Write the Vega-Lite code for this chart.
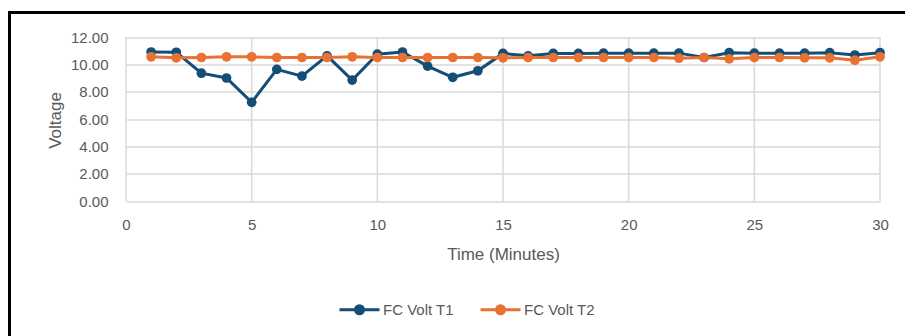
{
  "$schema": "https://vega.github.io/schema/vega-lite/v6.json",
  "width": 900,
  "height": 330,
  "autosize": "none",
  "padding": {"left": 9.5, "top": 12.5, "right": 0, "bottom": 0},
  "background": "white",
  "config": {
    "view": {"stroke": "black", "strokeWidth": 3},
    "font": "Liberation Sans",
    "axis": {
      "gridColor": "#d9d9d9",
      "gridWidth": 1.5,
      "domain": false,
      "ticks": false,
      "tickSize": 0,
      "labelColor": "#595959",
      "labelFontSize": 15,
      "titleColor": "#595959",
      "titleFontSize": 17,
      "titleFontWeight": "normal"
    }
  },
  "datasets": {
    "readings": [
      {"minute": 1, "series": "FC Volt T1", "voltage": 10.9},
      {"minute": 2, "series": "FC Volt T1", "voltage": 10.88},
      {"minute": 3, "series": "FC Volt T1", "voltage": 9.35},
      {"minute": 4, "series": "FC Volt T1", "voltage": 9.0},
      {"minute": 5, "series": "FC Volt T1", "voltage": 7.22},
      {"minute": 6, "series": "FC Volt T1", "voltage": 9.63},
      {"minute": 7, "series": "FC Volt T1", "voltage": 9.14},
      {"minute": 8, "series": "FC Volt T1", "voltage": 10.62},
      {"minute": 9, "series": "FC Volt T1", "voltage": 8.85},
      {"minute": 10, "series": "FC Volt T1", "voltage": 10.74},
      {"minute": 11, "series": "FC Volt T1", "voltage": 10.9},
      {"minute": 12, "series": "FC Volt T1", "voltage": 9.87},
      {"minute": 13, "series": "FC Volt T1", "voltage": 9.05},
      {"minute": 14, "series": "FC Volt T1", "voltage": 9.53},
      {"minute": 15, "series": "FC Volt T1", "voltage": 10.8},
      {"minute": 16, "series": "FC Volt T1", "voltage": 10.62},
      {"minute": 17, "series": "FC Volt T1", "voltage": 10.8},
      {"minute": 18, "series": "FC Volt T1", "voltage": 10.8},
      {"minute": 19, "series": "FC Volt T1", "voltage": 10.82},
      {"minute": 20, "series": "FC Volt T1", "voltage": 10.82},
      {"minute": 21, "series": "FC Volt T1", "voltage": 10.82},
      {"minute": 22, "series": "FC Volt T1", "voltage": 10.82},
      {"minute": 23, "series": "FC Volt T1", "voltage": 10.5},
      {"minute": 24, "series": "FC Volt T1", "voltage": 10.85},
      {"minute": 25, "series": "FC Volt T1", "voltage": 10.82},
      {"minute": 26, "series": "FC Volt T1", "voltage": 10.82},
      {"minute": 27, "series": "FC Volt T1", "voltage": 10.82},
      {"minute": 28, "series": "FC Volt T1", "voltage": 10.85},
      {"minute": 29, "series": "FC Volt T1", "voltage": 10.68},
      {"minute": 30, "series": "FC Volt T1", "voltage": 10.85},
      {"minute": 1, "series": "FC Volt T2", "voltage": 10.55},
      {"minute": 2, "series": "FC Volt T2", "voltage": 10.48},
      {"minute": 3, "series": "FC Volt T2", "voltage": 10.5},
      {"minute": 4, "series": "FC Volt T2", "voltage": 10.55},
      {"minute": 5, "series": "FC Volt T2", "voltage": 10.55},
      {"minute": 6, "series": "FC Volt T2", "voltage": 10.5},
      {"minute": 7, "series": "FC Volt T2", "voltage": 10.5},
      {"minute": 8, "series": "FC Volt T2", "voltage": 10.5},
      {"minute": 9, "series": "FC Volt T2", "voltage": 10.55},
      {"minute": 10, "series": "FC Volt T2", "voltage": 10.5},
      {"minute": 11, "series": "FC Volt T2", "voltage": 10.5},
      {"minute": 12, "series": "FC Volt T2", "voltage": 10.5},
      {"minute": 13, "series": "FC Volt T2", "voltage": 10.5},
      {"minute": 14, "series": "FC Volt T2", "voltage": 10.5},
      {"minute": 15, "series": "FC Volt T2", "voltage": 10.48},
      {"minute": 16, "series": "FC Volt T2", "voltage": 10.5},
      {"minute": 17, "series": "FC Volt T2", "voltage": 10.5},
      {"minute": 18, "series": "FC Volt T2", "voltage": 10.5},
      {"minute": 19, "series": "FC Volt T2", "voltage": 10.5},
      {"minute": 20, "series": "FC Volt T2", "voltage": 10.5},
      {"minute": 21, "series": "FC Volt T2", "voltage": 10.5},
      {"minute": 22, "series": "FC Volt T2", "voltage": 10.45},
      {"minute": 23, "series": "FC Volt T2", "voltage": 10.5},
      {"minute": 24, "series": "FC Volt T2", "voltage": 10.4},
      {"minute": 25, "series": "FC Volt T2", "voltage": 10.5},
      {"minute": 26, "series": "FC Volt T2", "voltage": 10.5},
      {"minute": 27, "series": "FC Volt T2", "voltage": 10.48},
      {"minute": 28, "series": "FC Volt T2", "voltage": 10.48},
      {"minute": 29, "series": "FC Volt T2", "voltage": 10.3},
      {"minute": 30, "series": "FC Volt T2", "voltage": 10.55}
    ],
    "minuteGrid": [
      {"minute": 0}, {"minute": 5}, {"minute": 10}, {"minute": 15},
      {"minute": 20}, {"minute": 25}, {"minute": 30}
    ]
  },
  "layer": [
    {
      "data": {"name": "minuteGrid"},
      "mark": {"type": "rule", "color": "#d9d9d9", "strokeWidth": 1.5},
      "encoding": {
        "x": {"field": "minute", "type": "quantitative"},
        "y": {"datum": 0, "type": "quantitative"},
        "y2": {"datum": 12}
      }
    },
    {
      "data": {"name": "readings"},
      "encoding": {
        "x": {"field": "minute", "type": "quantitative"},
        "y": {"field": "voltage", "type": "quantitative"},
        "color": {
          "field": "series",
          "type": "nominal",
          "scale": {"domain": ["FC Volt T1", "FC Volt T2"], "range": ["#124E77", "#E97132"]},
          "legend": {
            "title": null,
            "orient": "none",
            "direction": "horizontal",
            "legendX": 328.5,
            "legendY": 275.5,
            "padding": 0,
            "symbolType": "M-1,0H1M0.2,0A0.2,0.2,0,1,1,-0.2,0A0.2,0.2,0,1,1,0.2,0Z",
            "symbolSize": 1600,
            "symbolStrokeWidth": 3,
            "labelFontSize": 15,
            "labelColor": "#595959",
            "labelOffset": 2,
            "columnPadding": 20
          }
        }
      },
      "layer": [
        {"mark": {"type": "line", "strokeWidth": 3}},
        {"mark": {"type": "point", "filled": true, "opacity": 1, "size": 95, "shape": "circle"}}
      ]
    }
  ],
  "resolve": {"scale": {"x": "shared", "y": "shared"}},
  "encoding": {
    "x": {
      "type": "quantitative",
      "scale": {"domain": [0, 30], "range": [116.5, 870.5], "nice": false, "zero": false},
      "axis": {
        "values": [0, 5, 10, 15, 20, 25, 30],
        "grid": false,
        "offset": -141.5,
        "labelPadding": 16,
        "labelFlush": false,
        "title": "Time (Minutes)",
        "titleX": 493.5,
        "titleY": 53,
        "titleAlign": "center",
        "titleBaseline": "middle"
      }
    },
    "y": {
      "type": "quantitative",
      "scale": {"domain": [0, 12], "range": [188.5, 24.5], "nice": false, "zero": false},
      "axis": {
        "values": [0, 2, 4, 6, 8, 10, 12],
        "format": ".2f",
        "grid": true,
        "offset": -98.5,
        "labelPadding": 0,
        "labelFlush": false,
        "title": "Voltage",
        "titleAngle": -90,
        "titleX": -53,
        "titleY": 107.5,
        "titleAlign": "center",
        "titleBaseline": "middle"
      }
    }
  }
}
